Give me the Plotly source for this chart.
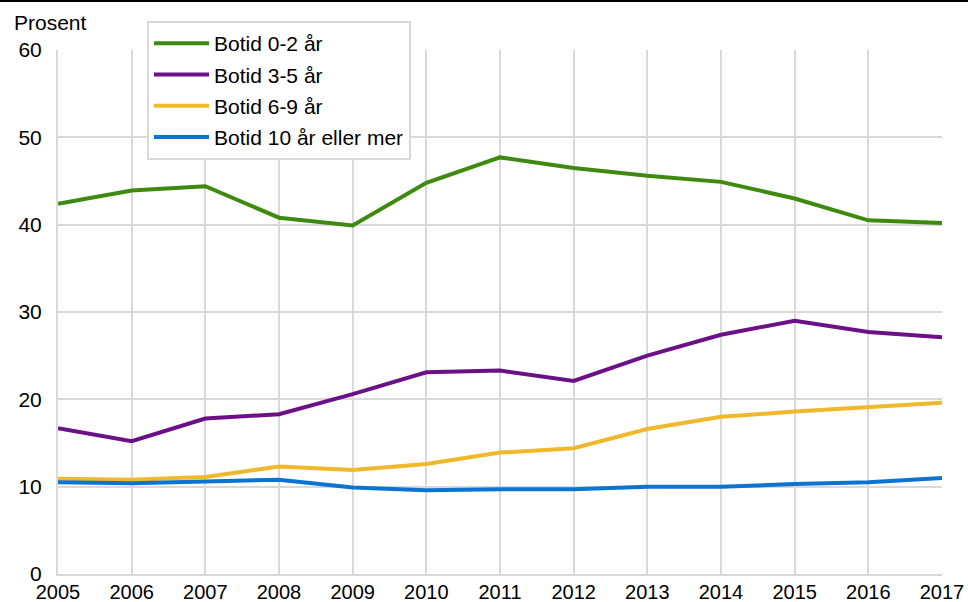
import plotly.graph_objects as go

years = [2005, 2006, 2007, 2008, 2009, 2010, 2011, 2012, 2013, 2014, 2015, 2016, 2017]
botid_0_2 = [42.4, 43.9, 44.4, 40.8, 39.9, 44.8, 47.7, 46.5, 45.6, 44.9, 43.0, 40.5, 40.2]
botid_3_5 = [16.7, 15.2, 17.8, 18.3, 20.6, 23.1, 23.3, 22.1, 25.0, 27.4, 29.0, 27.7, 27.1]
botid_6_9 = [10.9, 10.8, 11.1, 12.3, 11.9, 12.6, 13.9, 14.4, 16.6, 18.0, 18.6, 19.1, 19.6]
botid_10 = [10.5, 10.4, 10.6, 10.8, 9.9, 9.6, 9.7, 9.7, 10.0, 10.0, 10.3, 10.5, 11.0]

series_names = ["Botid 0-2 år", "Botid 3-5 år", "Botid 6-9 år", "Botid 10 år eller mer"]
series_values = [botid_0_2, botid_3_5, botid_6_9, botid_10]
colors = ["#3d8a0e", "#6c1087", "#f0b82a", "#0b74d2"]

y_ticks = [0, 10, 20, 30, 40, 50, 60]
y_label = "Prosent"

W, H = 968, 602
ml, mr, mt, mb = 58, 26, 50, 28
pw, ph = W - ml - mr, H - mt - mb

fig = go.Figure()
for i, (name, vals, col) in enumerate(zip(series_names, series_values, colors)):
    fig.add_trace(go.Scatter(x=years, y=vals, mode="lines", name=name,
                             legendgroup=f"g{i}",
                             line=dict(color=col, width=4)))

grid = "#d9d9d9"
fig.update_layout(
    width=W, height=H,
    margin=dict(l=ml, r=mr, t=mt, b=mb, autoexpand=False),
    paper_bgcolor="white", plot_bgcolor="white",
    font=dict(family="Liberation Sans, Arial, sans-serif", size=21, color="black"),
    xaxis=dict(range=[2005, 2017], tickvals=years, showgrid=True, gridcolor=grid,
               gridwidth=2, zeroline=False, showline=True, linecolor=grid, linewidth=2,
               mirror=False, ticks="", tickfont=dict(size=20), ticklabelstandoff=-1,
               automargin=False),
    yaxis=dict(range=[0, 60], tickvals=y_ticks, showgrid=True, gridcolor=grid,
               gridwidth=2, zeroline=False, showline=True, linecolor=grid, linewidth=2,
               ticks="", ticklabelstandoff=10, tickfont=dict(size=21), automargin=False),
    legend=dict(x=(147 - ml) / pw, y=1 + (mt - 21) / ph, xanchor="left", yanchor="top",
                bgcolor="white", bordercolor=grid, borderwidth=2,
                font=dict(size=21), tracegroupgap=1, itemwidth=55),
    showlegend=True,
)
fig.add_annotation(text=y_label, xref="paper", yref="paper",
                   x=(12 - ml) / pw, y=1 + (mt - 22) / ph, xanchor="left", yanchor="middle",
                   showarrow=False, font=dict(size=21))
fig.add_shape(type="line", xref="paper", yref="paper",
              x0=-ml / pw, x1=1 + mr / pw, y0=1 + (mt - 1) / ph, y1=1 + (mt - 1) / ph,
              line=dict(color="black", width=2))

fig.write_html("out.html", config={"displayModeBar": False},
               post_script="document.body.style.margin='0';")
